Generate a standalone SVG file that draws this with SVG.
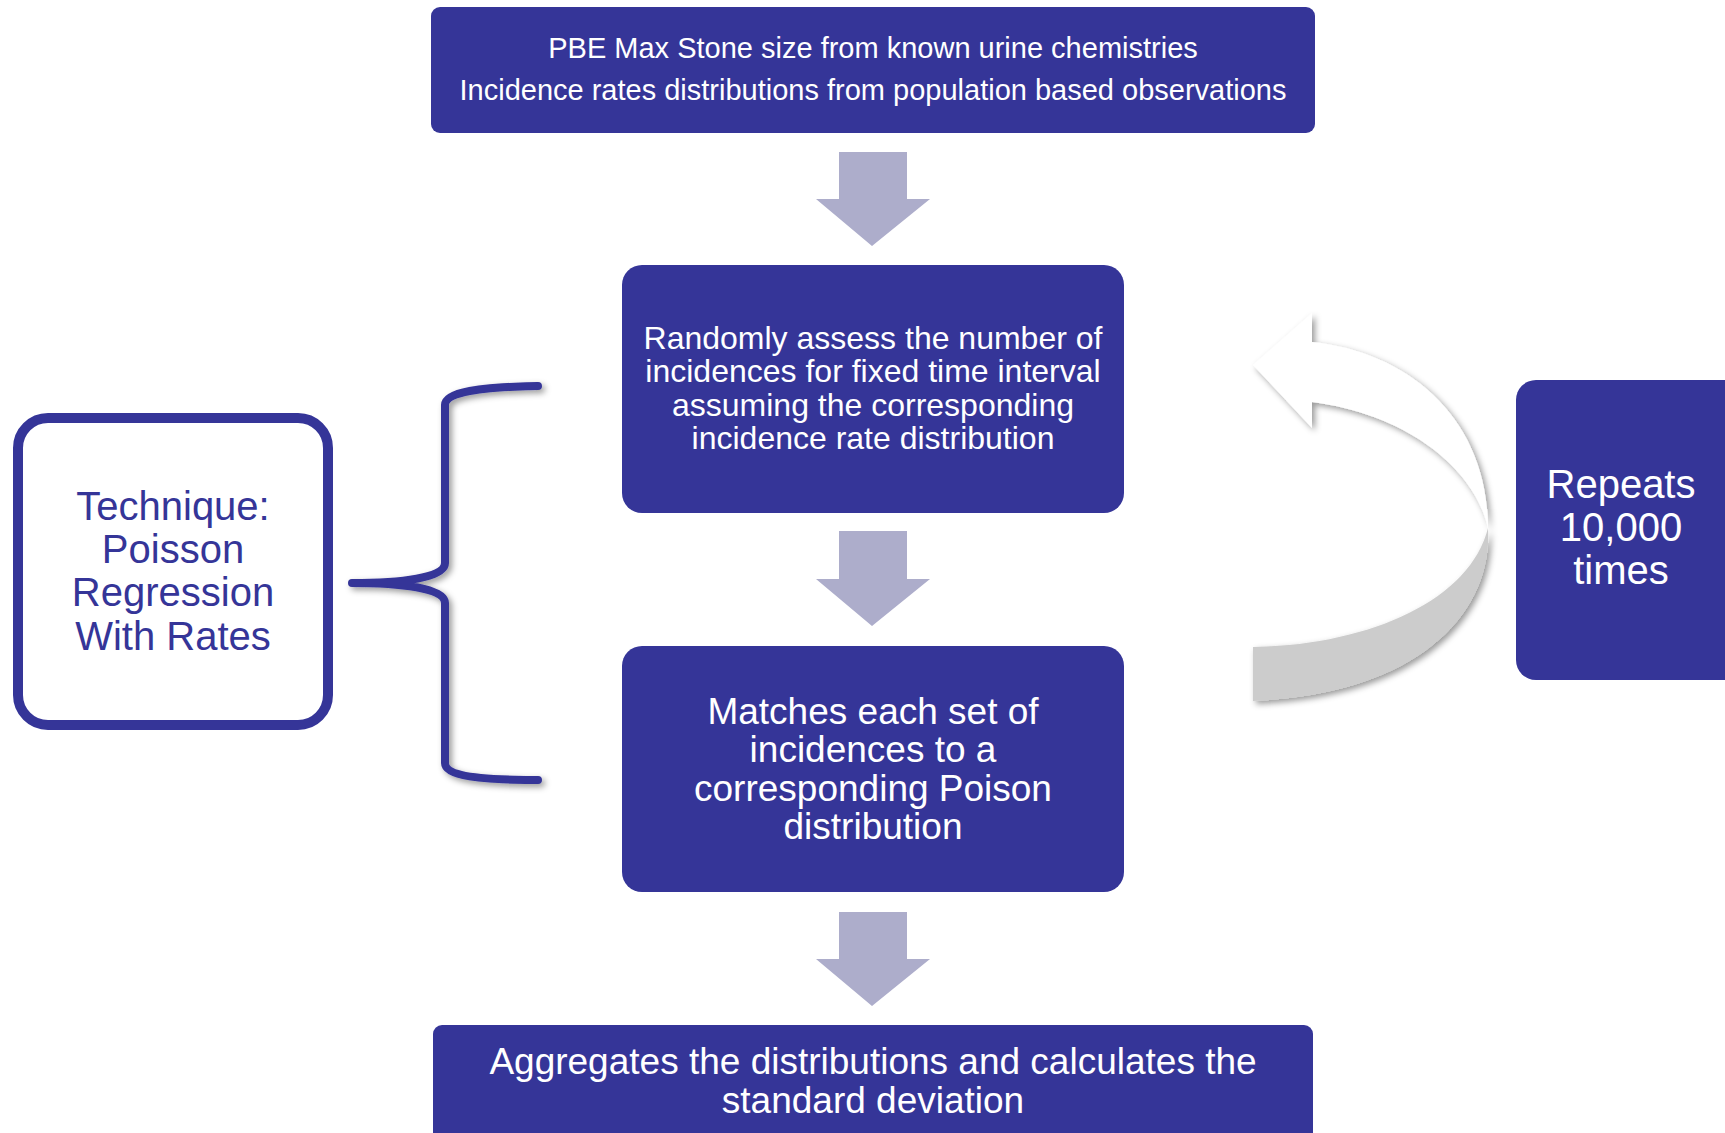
<svg xmlns="http://www.w3.org/2000/svg" width="1725" height="1133" viewBox="0 0 1725 1133">
<style>
.box{fill:#353598}
.wt{fill:#ffffff;font-family:"Liberation Sans",Arial,sans-serif;text-anchor:middle}
.bt{fill:#353598;font-family:"Liberation Sans",Arial,sans-serif;text-anchor:middle}
.arr{fill:#ADADCB}
</style>
<defs>
<filter id="sh" x="-20%" y="-20%" width="140%" height="140%">
<feDropShadow dx="3" dy="3" stdDeviation="3" flood-color="#000" flood-opacity="0.4"/>
</filter>
</defs>
<rect width="1725" height="1133" fill="#ffffff"/>

<g id="connectors">
<polygon class="arr" points="839,152 907,152 907,199 930,199 872,246 816,199 839,199"/>
<polygon class="arr" points="839,531 907,531 907,579 930,579 872,626 816,579 839,579"/>
<polygon class="arr" points="839,912 907,912 907,959 930,959 872,1006 816,959 839,959"/>
<g id="loop-arrow" filter="url(#sh)">
<path d="M1253,701 C1420,694 1493,612 1488,528 C1470,600 1370,645 1253,647 Z" fill="#CCCCCC"/>
<path d="M1312,342 C1410,352 1488,420 1488,528 C1475,470 1410,415 1312,402 L1312,428 L1253,365 L1312,313 Z" fill="#ffffff"/>
</g>
<path id="brace" d="M538,386 C480,387 445,392 445,405 L445,563 C445,578 400,583 352,583 C400,583 445,588 445,603 L445,763 C445,776 480,780 538,780" fill="none" stroke="#353598" stroke-width="8" stroke-linecap="round" stroke-linejoin="round" filter="url(#sh)"/>
</g>

<g id="node-top">
<rect class="box" x="431" y="7" width="884" height="126" rx="9"/>
<text class="wt" x="873" y="58" font-size="29">PBE Max Stone size from known urine chemistries</text>
<text class="wt" x="873" y="100" font-size="29">Incidence rates distributions from population based observations</text>
</g>

<g id="node-random">
<rect class="box" x="622" y="265" width="502" height="248" rx="20"/>
<text class="wt" x="873" y="349" font-size="32">Randomly assess the number of</text>
<text class="wt" x="873" y="382" font-size="32">incidences for fixed time interval</text>
<text class="wt" x="873" y="416" font-size="32">assuming the corresponding</text>
<text class="wt" x="873" y="449" font-size="32">incidence rate distribution</text>
</g>

<g id="node-match">
<rect class="box" x="622" y="646" width="502" height="246" rx="20"/>
<text class="wt" x="873" y="724" font-size="37">Matches each set of</text>
<text class="wt" x="873" y="762" font-size="37">incidences to a</text>
<text class="wt" x="873" y="801" font-size="37">corresponding Poison</text>
<text class="wt" x="873" y="839" font-size="37">distribution</text>
</g>

<g id="node-aggregate">
<rect class="box" x="433" y="1025" width="880" height="130" rx="9"/>
<text class="wt" x="873" y="1074" font-size="37">Aggregates the distributions and calculates the</text>
<text class="wt" x="873" y="1113" font-size="37">standard deviation</text>
</g>

<g id="node-technique">
<rect x="18" y="418" width="310" height="307" rx="30" fill="#ffffff" stroke="#353598" stroke-width="10"/>
<text class="bt" x="173" y="520" font-size="40">Technique:</text>
<text class="bt" x="173" y="563" font-size="40">Poisson</text>
<text class="bt" x="173" y="606" font-size="40">Regression</text>
<text class="bt" x="173" y="650" font-size="40">With Rates</text>
</g>

<g id="node-repeats">
<rect class="box" x="1516" y="380" width="240" height="300" rx="20"/>
<text class="wt" x="1621" y="498" font-size="40">Repeats</text>
<text class="wt" x="1621" y="541" font-size="40">10,000</text>
<text class="wt" x="1621" y="584" font-size="40">times</text>
</g>
</svg>
